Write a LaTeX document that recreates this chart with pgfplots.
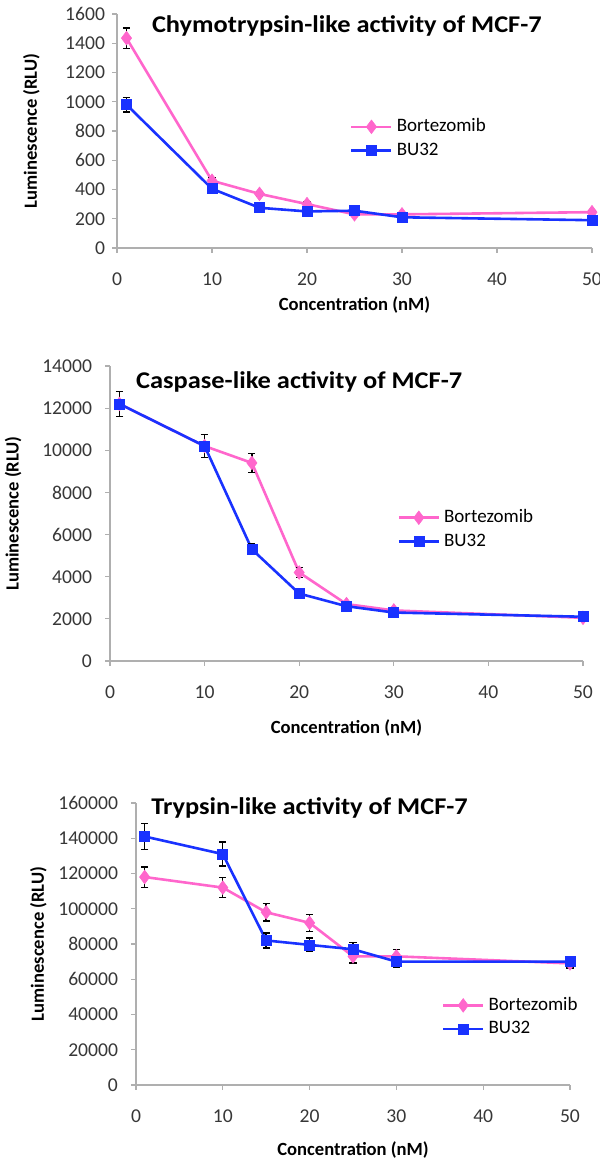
\documentclass[border=0pt]{standalone}
\usepackage{fontspec}
\setmainfont{Carlito}
\usepackage{pgfplots}
\pgfplotsset{compat=1.18}

\definecolor{pinkS}{RGB}{255,102,204}
\definecolor{blueS}{RGB}{25,50,255}
\definecolor{axgray}{RGB}{175,175,175}
\definecolor{txtgray}{RGB}{55,55,55}

\tikzset{ttl/.style={font=\bfseries\fontsize{12}{14}\selectfont, black}}
\newcommand{\ttltext}[1]{\scalebox{1.1}[1]{#1}}
\pgfplotsset{
  excel/.style={
    scale only axis, clip=false,
    axis lines*=left,
    axis line style={axgray, line width=0.6pt},
    xmin=0, xmax=50, xtick={0,10,...,50}, ymin=0,
    tick align=outside, major tick length=2.5pt,
    tick style={axgray, line width=0.6pt},
    tick label style={font=\fontsize{9.8}{11}\selectfont, text=txtgray},
    xticklabel style={yshift=-6.5pt},
    /pgf/number format/assume math mode=true,
    /pgf/number format/fixed,
    /pgf/number format/precision=0,
    /pgf/number format/1000 sep={},
    scaled y ticks=false,
    label style={font=\bfseries\fontsize{9.3}{11}\selectfont},
    xlabel={Concentration (nM)},
    ylabel={Luminescence (RLU)},
    legend cell align=left,
    legend style={draw=none, fill=none, font=\fontsize{9.5}{11}\selectfont,
                  anchor=west, row sep=0pt, inner sep=0pt},
    legend image code/.code={\draw[mark repeat=2, mark phase=2, ##1]
        plot coordinates {(0pt,0pt) (10pt,0pt) (20pt,0pt)};},
  },
  errs/.style={line width=1.3pt,
    error bars/y dir=both, error bars/y explicit,
    error bars/error bar style={black, line width=0.7pt, solid},
    error bars/error mark options={rotate=90, mark size=1.8pt, black, line width=0.7pt}},
  bort/.style={errs, pinkS, mark=diamond*, mark size=3.4pt,
               mark options={solid, fill=pinkS, draw=pinkS, line width=0.3pt}},
  bu/.style={errs, blueS, mark=square*, mark size=2.5pt,
             mark options={solid, fill=blueS, draw=blueS, line width=0.3pt}},
}

\begin{document}
\begin{tikzpicture}
\path[use as bounding box] (0pt,0pt) rectangle (300pt,579pt);

% chymotrypsin
\begin{axis}[excel, at={(58.5pt,455pt)}, anchor=south west,
    width=237.5pt, height=117pt,
    ymax=1600, ytick={0,200,...,1600},
    xlabel style={at={(axis description cs:0.5,-0.244)}, anchor=center},
    ylabel style={at={(axis description cs:-0.18,0.5)}, anchor=center},
    legend style={at={(axis description cs:0.49,0.468)}}]
\addplot[bort] coordinates {
  (1,1435) +- (0,70) (10,460) +- (0,20) (15,370) +- (0,15) (20,300) +- (0,15)
  (25,230) +- (0,12) (30,230) +- (0,10) (50,245) +- (0,10)};
\addlegendentry{Bortezomib}
\addplot[bu] coordinates {
  (1,980) +- (0,50) (10,405) +- (0,25) (15,275) +- (0,15) (20,250) +- (0,12)
  (25,255) +- (0,12) (30,210) +- (0,10) (50,190) +- (0,10)};
\addlegendentry{BU32}
\node[ttl] at (rel axis cs:0.484,0.95) {\ttltext{Chymotrypsin-like activity of MCF-7}};
\end{axis}

% caspase
\begin{axis}[excel, at={(55pt,248.5pt)}, anchor=south west,
    width=236.5pt, height=147.5pt,
    ymax=14000, ytick={0,2000,...,14000},
    yticklabel style={xshift=-3pt},
    xlabel style={at={(axis description cs:0.5,-0.227)}, anchor=center},
    ylabel style={at={(axis description cs:-0.205,0.5)}, anchor=center},
    legend style={at={(axis description cs:0.607,0.446)}}]
\addplot[bort] coordinates {
  (1,12200) +- (0,600) (10,10200) +- (0,550) (15,9400) +- (0,450) (20,4200) +- (0,230)
  (25,2700) +- (0,120) (30,2400) +- (0,100) (50,2050) +- (0,100)};
\addlegendentry{Bortezomib}
\addplot[bu] coordinates {
  (1,12200) +- (0,600) (10,10200) +- (0,550) (15,5300) +- (0,260) (20,3200) +- (0,150)
  (25,2600) +- (0,120) (30,2300) +- (0,100) (50,2100) +- (0,100)};
\addlegendentry{BU32}
\node[ttl] at (rel axis cs:0.40,0.946) {\ttltext{Caspase-like activity of MCF-7}};
\end{axis}

% trypsin
\begin{axis}[excel, at={(68pt,36.5pt)}, anchor=south west,
    width=217pt, height=141pt,
    ymax=160000, ytick={0,20000,...,160000},
    yticklabel style={xshift=-3pt},
    xlabel style={at={(axis description cs:0.5,-0.23)}, anchor=center},
    ylabel style={at={(axis description cs:-0.225,0.5)}, anchor=center},
    legend style={at={(axis description cs:0.704,0.241)}}]
\addplot[bort] coordinates {
  (1,118000) +- (0,5800) (10,112000) +- (0,5700) (15,98000) +- (0,5000) (20,92000) +- (0,4800)
  (25,73000) +- (0,3800) (30,73000) +- (0,4000) (50,69000) +- (0,3000)};
\addlegendentry{Bortezomib}
\addplot[bu] coordinates {
  (1,141000) +- (0,7300) (10,131000) +- (0,6800) (15,82000) +- (0,4200) (20,79500) +- (0,3800)
  (25,77000) +- (0,4000) (30,70000) +- (0,3500) (50,70000) +- (0,3000)};
\addlegendentry{BU32}
\node[ttl] at (rel axis cs:0.40,0.982) {\ttltext{Trypsin-like activity of MCF-7}};
\end{axis}
\end{tikzpicture}
\end{document}
